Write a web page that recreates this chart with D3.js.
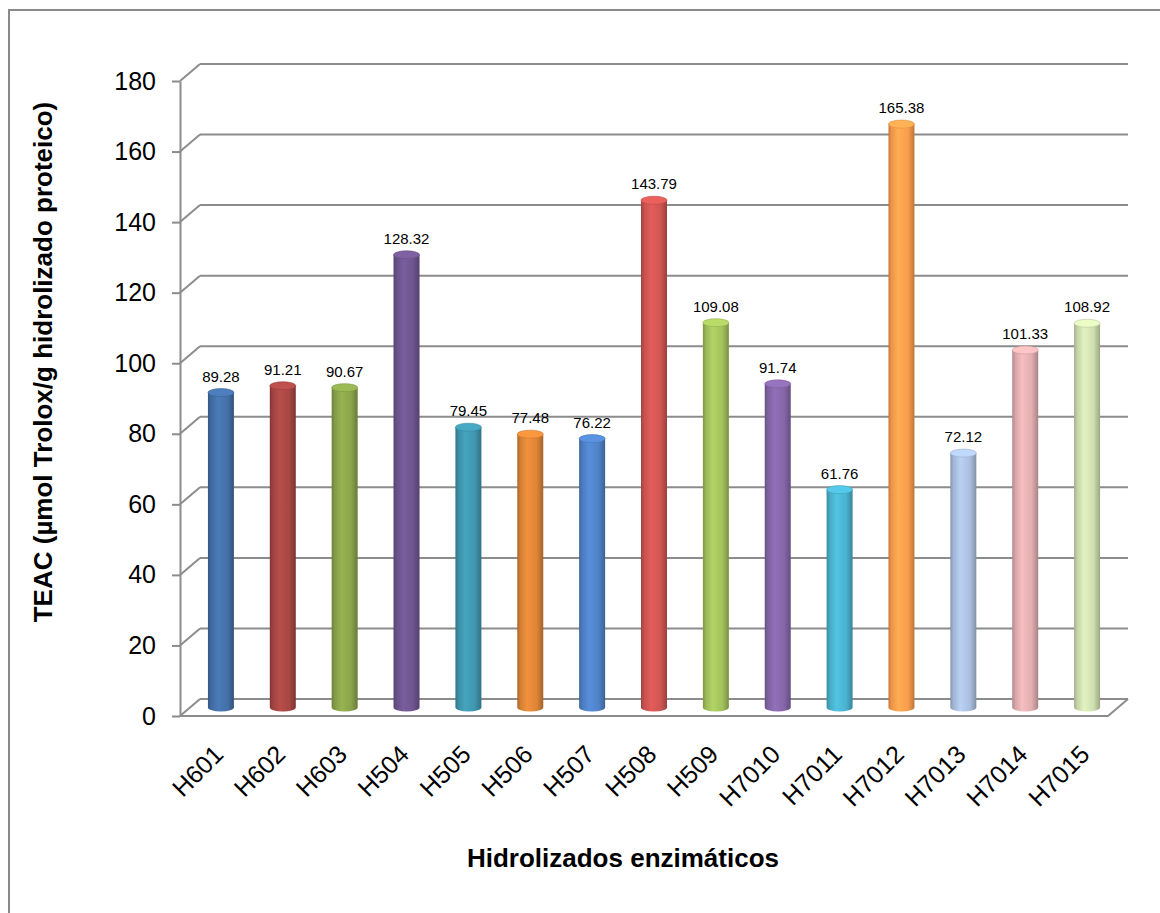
<!DOCTYPE html>
<html>
<head>
<meta charset="utf-8">
<script src="https://cdn.jsdelivr.net/npm/d3@7"></script>
<style>
  body { margin: 0; background: #fff; }
  text { font-family: Arial, "Liberation Sans", sans-serif; }
</style>
</head>
<body>
<div id="chart"></div>
<script>
// Data
var categories = ["H601", "H602", "H603", "H504", "H505", "H506", "H507", "H508",
  "H509", "H7010", "H7011", "H7012", "H7013", "H7014", "H7015"];
var values = [89.28, 91.21, 90.67, 128.32, 79.45, 77.48, 76.22, 143.79,
  109.08, 91.74, 61.76, 165.38, 72.12, 101.33, 108.92];
var yTicks = [0, 20, 40, 60, 80, 100, 120, 140, 160, 180];

// bar colours (one per point, like Excel "vary colors by point")
var palette = ["#4470a8", "#a84744", "#8aa44a", "#6f5590", "#3f96ae", "#dd8538",
  "#5082c8", "#d05552", "#a3c25c", "#8566a8", "#4ab3d0", "#fb9d4c",
  "#aabfe0", "#e2aeb0", "#cfdeb0"];

var svgWidth = 1160;
var svgHeight = 913;

// front plane of the plot and depth offset of the back wall
var front = { left: 180, right: 1108, top: 81, bottom: 716 };
var depth = { dx: 20, dy: -17 };

var svg = d3.select("#chart")
  .append("svg")
  .attr("width", svgWidth)
  .attr("height", svgHeight);

// outer chart border
svg.append("rect")
  .attr("x", 9)
  .attr("y", 10)
  .attr("width", svgWidth + 20)
  .attr("height", svgHeight + 20)
  .attr("fill", "none")
  .attr("stroke", "#8a8a8a")
  .attr("stroke-width", 2);

var yScale = d3.scaleLinear()
  .domain([0, 180])
  .range([front.bottom, front.top]);

var xScale = d3.scaleBand()
  .domain(categories)
  .range([front.left, front.right]);

var gridColor = "#8c8c8c";

// back wall gridlines
svg.append("g")
  .selectAll("line")
  .data(yTicks)
  .enter()
  .append("line")
  .attr("x1", front.left + depth.dx)
  .attr("x2", front.right + depth.dx)
  .attr("y1", d => yScale(d) + depth.dy)
  .attr("y2", d => yScale(d) + depth.dy)
  .attr("stroke", gridColor)
  .attr("stroke-width", 2);

// side wall slants
svg.append("g")
  .selectAll("line")
  .data(yTicks)
  .enter()
  .append("line")
  .attr("x1", front.left)
  .attr("x2", front.left + depth.dx)
  .attr("y1", d => yScale(d))
  .attr("y2", d => yScale(d) + depth.dy)
  .attr("stroke", gridColor)
  .attr("stroke-width", 2);

// floor front and right edges
svg.append("path")
  .attr("d", `M${front.left},${yScale(0)} L${front.right},${yScale(0)} L${front.right + depth.dx},${yScale(0) + depth.dy}`)
  .attr("fill", "none")
  .attr("stroke", gridColor)
  .attr("stroke-width", 2);

// y axis
var leftAxis = d3.axisLeft(yScale)
  .tickValues(yTicks)
  .tickSize(8)
  .tickSizeOuter(0)
  .tickPadding(16);

var yAxis = svg.append("g")
  .attr("transform", `translate(${front.left}, 0)`)
  .call(leftAxis);
yAxis.select(".domain").attr("stroke", gridColor).attr("stroke-width", 2);
yAxis.selectAll(".tick line").attr("stroke", gridColor).attr("stroke-width", 2);
yAxis.selectAll(".tick text")
  .attr("fill", "#000")
  .style("font-size", "25px");

// gradients for cylinders
var defs = svg.append("defs");
palette.forEach(function(c, i) {
  var base = d3.color(c);
  var g = defs.append("linearGradient")
    .attr("id", "grad" + i)
    .attr("x1", "0%").attr("x2", "100%")
    .attr("y1", "0%").attr("y2", "0%");
  g.append("stop").attr("offset", "0%").attr("stop-color", base.darker(0.7));
  g.append("stop").attr("offset", "12%").attr("stop-color", base.darker(0.15));
  g.append("stop").attr("offset", "38%").attr("stop-color", base.brighter(0.25));
  g.append("stop").attr("offset", "75%").attr("stop-color", base);
  g.append("stop").attr("offset", "100%").attr("stop-color", base.darker(0.8));
});

// bars drawn at mid depth
var midDx = depth.dx / 2;
var midDy = depth.dy / 2;
var rx = 13;
var ry = 4;

var bars = svg.append("g")
  .selectAll("g")
  .data(values)
  .enter()
  .append("g");

function cx(i) { return xScale(categories[i]) + xScale.bandwidth() / 2 + midDx; }
function cyTop(d) { return yScale(d) + midDy; }
var cyBottom = yScale(0) + midDy;

bars.append("path")
  .attr("d", (d, i) => `M${cx(i) - rx},${cyTop(d)} L${cx(i) - rx},${cyBottom} A${rx},${ry} 0 0 0 ${cx(i) + rx},${cyBottom} L${cx(i) + rx},${cyTop(d)} Z`)
  .attr("fill", (d, i) => `url(#grad${i})`);

bars.append("ellipse")
  .attr("cx", (d, i) => cx(i))
  .attr("cy", d => cyTop(d))
  .attr("rx", rx)
  .attr("ry", ry)
  .attr("fill", (d, i) => d3.color(palette[i]).brighter(0.35))
  .attr("stroke", (d, i) => d3.color(palette[i]).darker(0.3))
  .attr("stroke-width", 0.6);

// value labels
bars.append("text")
  .attr("x", (d, i) => cx(i))
  .attr("y", d => cyTop(d) - 11)
  .attr("text-anchor", "middle")
  .style("font-size", "15px")
  .attr("fill", "#000")
  .text(d => d.toFixed(2));

// category labels, rotated
svg.append("g")
  .selectAll("text")
  .data(categories)
  .enter()
  .append("text")
  .attr("transform", (d, i) => `translate(${cx(i) + 4}, 756) rotate(-45)`)
  .attr("text-anchor", "end")
  .style("font-size", "25px")
  .attr("fill", "#000")
  .text(d => d);

// axis titles
svg.append("text")
  .attr("transform", "translate(52, 362) rotate(-90)")
  .attr("text-anchor", "middle")
  .style("font-size", "26px")
  .style("font-weight", "bold")
  .text("TEAC (µmol Trolox/g hidrolizado proteico)");

svg.append("text")
  .attr("x", 623)
  .attr("y", 867)
  .attr("text-anchor", "middle")
  .style("font-size", "26px")
  .style("font-weight", "bold")
  .text("Hidrolizados enzimáticos");
</script>
</body>
</html>
